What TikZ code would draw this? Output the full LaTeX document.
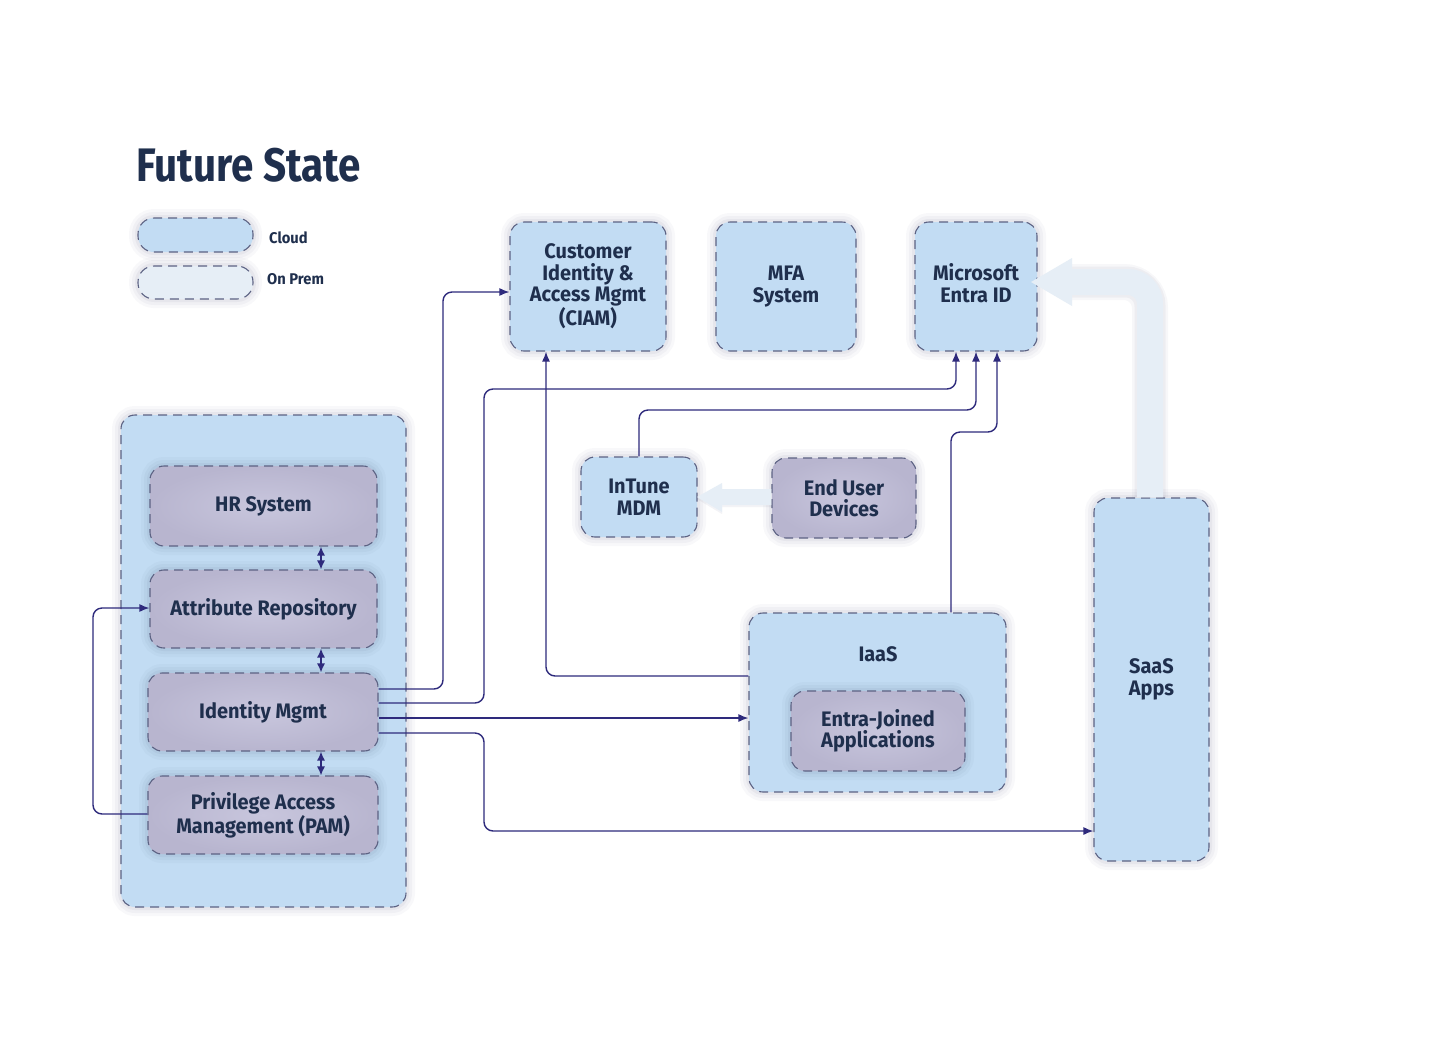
\documentclass[tikz,border=0pt]{standalone}
\usepackage{fontspec}
\setmainfont{Fira Sans}
\newfontfamily\titlefont{Fira Sans}[FakeStretch=0.86]
\newfontfamily\boxfont{Fira Sans}[FakeStretch=0.95]
\usetikzlibrary{arrows.meta,calc}
\definecolor{cloud}{HTML}{C2DCF3}
\definecolor{prem}{HTML}{B8B5CF}
\definecolor{premin}{HTML}{C8C6DD}
\definecolor{light}{HTML}{E6EEF6}
\definecolor{dashc}{HTML}{5C6283}
\definecolor{conn}{HTML}{2E2A7C}
\definecolor{txt}{HTML}{1F2F4D}
\definecolor{glowc}{HTML}{3A3F66}
\begin{document}
\begin{tikzpicture}[x=1pt,y=-1pt,
  glow/.style={preaction={draw=glowc,draw opacity=0.03,line width=18pt,solid},
               preaction={draw=glowc,draw opacity=0.04,line width=12pt,solid},
               preaction={draw=glowc,draw opacity=0.05,line width=6pt,solid}},
  boxbase/.style={glow,draw=dashc,line width=1.1pt,dash pattern=on 9pt off 6pt,
     rounded corners=14pt,text=txt,align=center,inner sep=0pt,
     font=\boxfont\fontsize{21}{21.5}\selectfont\bfseries},
  cloudbox/.style={boxbase,fill=cloud},
  prembox/.style={boxbase,shade,inner color=premin,outer color=prem},
  legbox/.style={boxbase,rounded corners=16pt},
  cn/.style={draw=conn,line width=1.4pt,rounded corners=9pt,-{Latex[length=10pt,width=8pt]}},
  dbl/.style={draw=conn,line width=1.4pt,{Latex[length=9pt,width=8pt]}-{Latex[length=9pt,width=8pt]}},
  bigarr/.style={fill=light},
  lbl/.style={text=txt,font=\boxfont\fontsize{15.5}{17}\selectfont\bfseries,anchor=west,inner sep=0pt}
]
\useasboundingbox (0,0) rectangle (1429,1050);
\fill[white] (0,0) rectangle (1429,1050);

\node[anchor=base west,inner sep=0pt,text=txt,font=\titlefont\fontsize{47}{50}\selectfont\bfseries] (title) at (136,181) {Future State};

% legend
\node[legbox,fill=cloud,minimum width=115pt,minimum height=34pt] (legc) at (195.5,235) {};
\node[legbox,fill=light,minimum width=115pt,minimum height=33pt] (legp) at (195.5,282.5) {};
\node[lbl] (legct) at (269,238) {Cloud};
\node[lbl] (legpt) at (267,279) {On Prem};

% top row
\node[cloudbox,minimum width=156pt,minimum height=129pt] (ciam) at (588,286.5) {Customer\\Identity \&\\Access Mgmt\\(CIAM)};
\node[cloudbox,minimum width=140pt,minimum height=129pt] (mfa) at (786,286.5) {MFA\\System};
\node[cloudbox,minimum width=122pt,minimum height=129pt] (entra) at (976,286.5) {};
\node[text=txt,align=center,inner sep=0pt,font=\boxfont\fontsize{21}{21.5}\selectfont\bfseries] (entrat) at (976,283) {Microsoft\\Entra ID};

% left container
\node[cloudbox,minimum width=285pt,minimum height=492pt] (cont) at (263.5,661) {};
\node[prembox,minimum width=227pt,minimum height=80pt] (hr) at (263.5,506) {HR System};
\node[prembox,minimum width=227pt,minimum height=78pt] (attr) at (263.5,609) {Attribute Repository};
\node[prembox,minimum width=230pt,minimum height=78pt] (idm) at (263,712) {Identity Mgmt};
\node[prembox,minimum width=230pt,minimum height=78pt] (pam) at (263,815) {Privilege Access\\Management (PAM)};

% middle
\node[cloudbox,minimum width=116pt,minimum height=80pt] (intune) at (639,497) {InTune\\MDM};
\node[prembox,minimum width=144pt,minimum height=80pt] (eud) at (844,498) {End User\\Devices};

\node[cloudbox,minimum width=257pt,minimum height=179pt] (iaas) at (877.5,702.5) {};
\node[text=txt,font=\boxfont\fontsize{21}{21.5}\selectfont\bfseries,inner sep=0pt] (iaast) at (878,654) {IaaS};
\node[prembox,minimum width=174pt,minimum height=80pt] (eja) at (878,731) {Entra-Joined\\Applications};

\node[cloudbox,minimum width=115pt,minimum height=363pt] (saas) at (1151.5,679.5) {SaaS\\Apps};

% big light arrows
\coordinate (tipI) at (697,497);
\fill[bigarr,preaction={fill=glowc,fill opacity=0.06,transform canvas={yshift=-2pt}}]
  (eud.west |- 0,489) -- (722,489) -- (722,483) -- (tipI) -- (722,512) -- (722,505) -- (eud.west |- 0,505) -- cycle;

\coordinate (bend) at (1150,282);
\coordinate (tipE) at (1031,282);
\draw[draw=glowc,draw opacity=0.04,line width=36pt,rounded corners=26pt] (saas.north -| 1150,0) -- (bend) -- (1072,282);
\draw[draw=glowc,draw opacity=0.05,line width=31pt,rounded corners=24pt] (saas.north -| 1150,0) -- (bend) -- (1072,282);
\draw[draw=light,line width=26pt,rounded corners=22pt] (saas.north -| 1150,0) -- (bend) -- (1071,282);
\fill[bigarr] (1072,258) -- (tipE) -- (1072,306) -- cycle;

% connectors
\draw[dbl] (hr.south -| 321,0) -- (attr.north -| 321,0);
\draw[dbl] (attr.south -| 321,0) -- (idm.north -| 321,0);
\draw[dbl] (idm.south -| 321,0) -- (pam.north -| 321,0);

\draw[cn] (idm.east |- 0,689) -- (443,689) -- (443,292) -- (ciam.west |- 0,292);
\draw[cn] (idm.east |- 0,703) -- (484,703) -- (484,389) -- (956,389) -- (entra.south -| 956,0);
\draw[cn] (idm.east |- 0,718) -- (iaas.west |- 0,718);
\draw[cn] (idm.east |- 0,733) -- (484,733) -- (484,831) -- (saas.west |- 0,831);
\draw[cn] (iaas.west |- 0,676) -- (546,676) -- (ciam.south -| 546,0);
\draw[cn] (intune.north) -- (intune.north |- 0,410) -- (976,410) -- (entra.south -| 976,0);
\draw[cn] (iaas.north -| 951,0) -- (951,432) -- (997,432) -- (entra.south -| 997,0);
\draw[cn] (pam.west |- 0,814) -- (93,814) -- (93,608) -- (attr.west |- 0,608);
\end{tikzpicture}
\end{document}
